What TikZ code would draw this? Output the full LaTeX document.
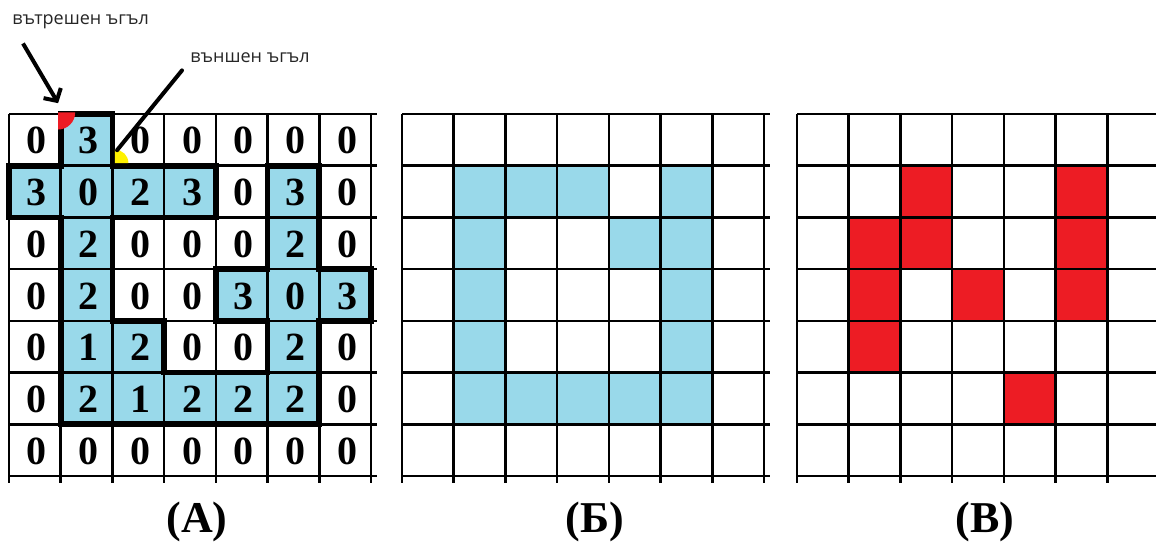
\documentclass[tikz,border=0pt]{standalone}
\usepackage{fontspec}
\setmainfont{Liberation Serif}
\newfontfamily\notefont{Open Sans}
\usetikzlibrary{arrows.meta}
\definecolor{cellblue}{RGB}{153,217,234}
\definecolor{cellred}{RGB}{237,28,36}
\definecolor{markyellow}{RGB}{255,242,0}
\tikzset{
  gridA/.style={shift={(9,114)}, x=25.85pt, y=-25.85pt},
  gridB/.style={shift={(402,114)}, x=25.85pt, y=-25.85pt},
  gridC/.style={shift={(797,114)}, x=25.85pt, y=-25.85pt},
  gridline/.style={line width=1.3pt},
  border/.style={line width=2.8pt, line join=miter},
  digit/.style={font=\bfseries\fontsize{20}{20}\selectfont, inner sep=0pt},
  caption/.style={font=\bfseries\fontsize{22}{22}\selectfont, inner sep=0pt},
  note/.style={font=\notefont\fontsize{9}{9}\selectfont, text=black!85, inner sep=0pt, anchor=west},
  pointer/.style={line width=2pt, -{Straight Barb[length=4.5pt,width=10pt]}},
  stick/.style={line width=2pt, line cap=round},
}
\begin{document}
\begin{tikzpicture}[x=0.5pt, y=-0.5pt]
\useasboundingbox (0,0) rectangle (1156,547);
\fill[white] (0,0) rectangle (1156,547);
% celle
\begin{scope}[gridA]
\foreach \r/\c in {0/1,1/0,1/1,1/2,1/3,1/5,2/1,2/5,3/1,3/4,3/5,3/6,4/1,4/2,4/5,5/1,5/2,5/3,5/4,5/5}
  \fill[cellblue] (\c,\r) rectangle +(1,1);
\end{scope}
\begin{scope}[gridB]
\foreach \r/\c in {1/1,1/2,1/3,1/5,2/1,2/4,2/5,3/1,3/5,4/1,4/5,5/1,5/2,5/3,5/4,5/5}
  \fill[cellblue] (\c,\r) rectangle +(1,1);
\end{scope}
\begin{scope}[gridC]
\foreach \r/\c in {1/2,1/5,2/1,2/2,2/5,3/1,3/3,3/5,4/1,5/4}
  \fill[cellred] (\c,\r) rectangle +(1,1);
\end{scope}
% griglie
\foreach \gx in {9,402,797}
  \foreach \i in {0,...,7} {
    \draw[gridline] (\gx+\i*51.7,114) -- ++(0,369);
    \draw[gridline] (\gx,114+\i*51.7) -- ++(368,0);
  }
% numeri e bordo
\begin{scope}[gridA]
\foreach \vals [count=\r from 0] in {{0,3,0,0,0,0,0},{3,0,2,3,0,3,0},{0,2,0,0,0,2,0},{0,2,0,0,3,0,3},{0,1,2,0,0,2,0},{0,2,1,2,2,2,0},{0,0,0,0,0,0,0}}
  \foreach \v [count=\c from 0] in \vals
    \node[digit] (a\r\c) at (\c+0.54,\r+0.52) {\v};
\draw[border] (1,0) -- (2,0) -- (2,1) -- (4,1) -- (4,2) -- (2,2) -- (2,4) -- (3,4) -- (3,5) -- (5,5) -- (5,4) -- (4,4) -- (4,3) -- (5,3) -- (5,1) -- (6,1) -- (6,3) -- (7,3) -- (7,4) -- (6,4) -- (6,6) -- (1,6) -- (1,2) -- (0,2) -- (0,1) -- (1,1) -- cycle;
\fill[cellred] (0.95,-0.03) -- ++(0.33,0) arc[start angle=0, end angle=90, radius=0.33] -- cycle;
\fill[markyellow] (2.05,0.95) -- ++(0.26,0) arc[start angle=0, end angle=-90, radius=0.26] -- cycle;
\coordinate (innertip) at (0.95,-0.21);
\coordinate (outertip) at (2.09,0.70);
\end{scope}
% frecce
\node[note] (inner) at (12,22) {вътрешен ъгъл};
\node[note] (outer) at (190,58) {външен ъгъл};
\draw[pointer] ([xshift=5.5pt,yshift=-7pt]inner.south west) -- (innertip);
\draw[stick] ([xshift=-4pt,yshift=-3.5pt]outer.south west) -- (outertip);
% didascalie
\node[caption] (capA) at (197,522) {(А)};
\node[caption] (capB) at (595,522) {(Б)};
\node[caption] (capC) at (985,522) {(В)};
\end{tikzpicture}
\end{document}
